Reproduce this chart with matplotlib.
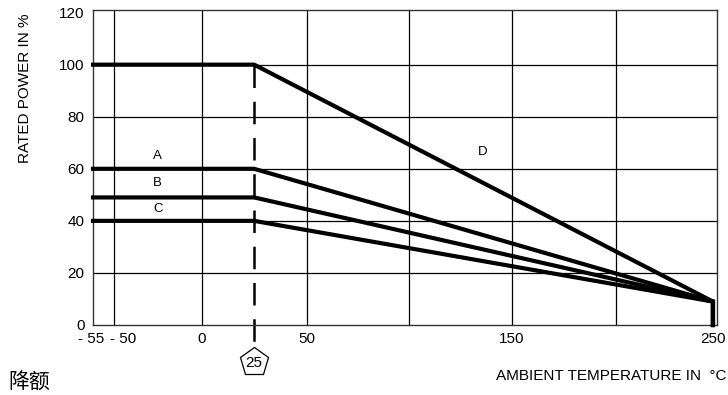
import matplotlib
matplotlib.use('Agg')
import matplotlib.pyplot as plt
import matplotlib.transforms as mtransforms
import numpy as np

plt.rcParams.update({
    'font.family': ['Liberation Sans', 'Noto Sans CJK SC', 'DejaVu Sans'],
    'font.size': 11,
})

# ── data ─────
curve_names = ['A', 'B', 'C', 'D']
plateau_levels = [60, 49, 40, 100]        # rated power (%) up to the knee
t_start = -55
t_knee = 25
t_end = 248
end_level = 9
x_ticks = [-55, -50, 0, 50, 150, 250]
x_tick_labels = ['- 55', '- 50', '0', '50', '150', '250']
x_grid = [-50, 0, 50, 100, 150, 200]
y_ticks = [0, 20, 40, 60, 80, 100, 120]

# the drawing is schematic: the temperature axis is not linear
SCALE_T = [-1000, -55, -50, 0, 50, 100, 150, 200, 250, 1250]
SCALE_P = [-1000, 93, 113.7, 201.7, 306.7, 409.3, 511.7, 616, 717, 2717]

def fwd(x):
    return np.interp(x, SCALE_T, SCALE_P)

def inv(x):
    return np.interp(x, SCALE_P, SCALE_T)

fig = plt.figure(figsize=(7.28, 3.95), dpi=100)
ax = fig.add_axes([93 / 728, 1 - 325 / 395, (717 - 93) / 728, (325 - 10) / 395])
ax.set_xscale('function', functions=(fwd, inv))
ax.set_xlim(-55, 250)
ax.set_ylim(0, 121)

for x in x_grid:
    ax.axvline(x, color='black', lw=0.9, zorder=1)
for y in y_ticks[1:-1]:
    ax.axhline(y, color='black', lw=0.9, zorder=1)

for name, lvl in zip(curve_names, plateau_levels):
    ax.plot([t_start, t_knee, t_end, t_end], [lvl, lvl, end_level, 0],
            color='black', lw=3, solid_joinstyle='miter', zorder=3, clip_on=False)

# dashed knee line, running below the axis to the marker
ax.plot([t_knee, t_knee], [100, -7], color='black', lw=1.8,
        dashes=(9, 5.5), zorder=2, clip_on=False)
trans = mtransforms.blended_transform_factory(ax.transData, fig.transFigure)
ax.plot([t_knee], [1 - 362 / 395], marker='p', ms=21, mfc='white', mec='black',
        mew=0.9, transform=trans, clip_on=False)
ax.text(t_knee, 1 - 363 / 395, str(t_knee), transform=trans, ha='center',
        va='center', fontsize=11)

# curve letters
ax.text(-25, 65, 'A', ha='center', va='center', fontsize=9.5)
ax.text(-25, 54.5, 'B', ha='center', va='center', fontsize=9.5)
ax.text(-25, 44.5, 'C', ha='center', va='center', fontsize=9.5)
ax.text(136, 66.5, 'D', ha='center', va='center', fontsize=9.5)

ax.set_xticks(x_ticks)
ax.set_xticklabels(x_tick_labels)
ax.set_yticks(y_ticks)
ax.tick_params(length=0, axis='x', pad=5)
ax.tick_params(length=0, axis='y', pad=6)
labels = ax.get_xticklabels()
for i, dx in [(0, -2), (1, 9), (5, -4)]:
    labels[i].set_transform(labels[i].get_transform()
                            + mtransforms.ScaledTranslation(dx / 100, 0, fig.dpi_scale_trans))

for s in ax.spines.values():
    s.set_linewidth(1.0)
    s.set_color('#333333')

fig.text(25 / 728, 1 - 88 / 395, 'RATED POWER IN %', rotation=90,
         ha='center', va='center', fontsize=11)
fig.text(727 / 728, 1 - 376 / 395, 'AMBIENT TEMPERATURE IN  \u00b0C',
         ha='right', va='center', fontsize=11)
fig.text(8 / 728, 1 - 383 / 395, '降额', ha='left', va='center',
         fontsize=15, family=['Noto Sans CJK SC', 'DejaVu Sans'])

fig.savefig('out.png', dpi=100)
